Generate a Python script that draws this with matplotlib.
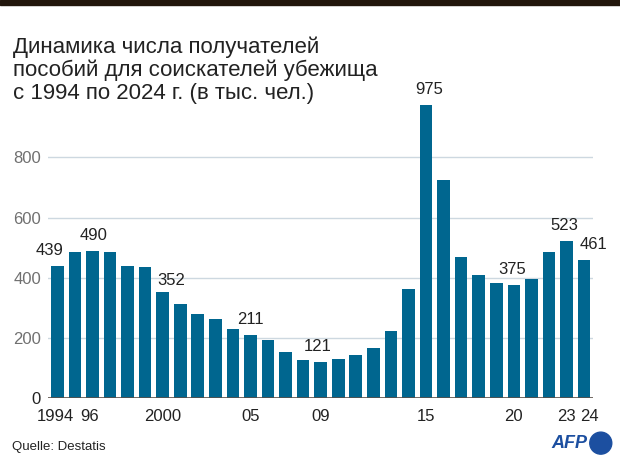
import matplotlib.pyplot as plt
import matplotlib.transforms as mtransforms
from matplotlib.patches import Ellipse, Rectangle

years = list(range(1994, 2025))
values = [439, 487, 490, 485, 438, 435, 352, 313, 279, 263, 230, 211, 193,
          153, 127, 121, 129, 144, 166, 225, 362, 975, 726, 468, 410, 383,
          375, 398, 485, 523, 461]

# labelled bars and a small nudge (pixels)
label_years = [1994, 1996, 2000, 2005, 2009, 2015, 2020, 2023, 2024]
label_dx = [-8, 1, 9, 0, -3, 3, -2, -2, 9]
label_dy = [8, 8, 4, 8, 8, 8, 8, 8, 8]

tick_years = [1994, 1996, 2000, 2005, 2009, 2015, 2020, 2023, 2024]
tick_labels = ["1994", "96", "2000", "05", "09", "15", "20", "23", "24"]
tick_dx = [-2, -3, 0, 0, 0, 0, 0, 0, 5]

yticks = [0, 200, 400, 600, 800]

title_lines = ["Динамика числа получателей",
               "пособий для соискателей убежища",
               "с 1994 по 2024 г. (в тыс. чел.)"]

bar_color = "#00668f"
plt.rcParams["font.family"] = ["Liberation Sans", "DejaVu Sans"]

fig = plt.figure(figsize=(6.2, 4.65), dpi=100)
ax = fig.add_axes([0.0774, 0.1434, 0.8791, 0.6474])

ax.bar(years, values, width=0.72, color=bar_color, zorder=3)
ax.set_xlim(1993.47, 2024.51)
ax.set_ylim(0, 1000)

for y in yticks[1:]:
    ax.axhline(y, color="#cdd8e0", lw=1, zorder=1)
ax.axhline(0, color="#5a4f48", lw=1.2, zorder=4)

for s in ax.spines.values():
    s.set_visible(False)

ax.set_yticks(yticks)
ax.set_yticklabels([str(v) for v in yticks])
ax.tick_params(axis="y", length=0, pad=5, labelsize=12, labelcolor="#707070")
ax.get_yticklabels()[0].set_color("#222222")

ax.set_xticks(tick_years)
ax.set_xticklabels(tick_labels)
ax.tick_params(axis="x", length=0, pad=8, labelsize=12, labelcolor="#222222")
for lab, dx in zip(ax.get_xticklabels(), tick_dx):
    lab.set_transform(lab.get_transform() +
                      mtransforms.ScaledTranslation(dx / 100, 0, fig.dpi_scale_trans))

for yr, dx, dy in zip(label_years, label_dx, label_dy):
    v = values[years.index(yr)]
    ax.annotate(str(v), (yr, v), xytext=(dx * 0.72, dy * 0.72),
                textcoords="offset points", ha="center", va="bottom",
                fontsize=12, color="#222222", zorder=5)

for i, line in enumerate(title_lines):
    fig.text(13 / 620, 1 - (53 + 23 * i) / 465, line, fontsize=16,
             color="#222222", va="baseline", ha="left")

fig.patches.append(Rectangle((0, 0.99), 1, 0.01, transform=fig.transFigure,
                             color="#22160c", zorder=10))

fig.text(0.019, 1 - 447 / 465, "Quelle: Destatis", fontsize=9.5,
         color="#222222", va="center", ha="left")

fig.text(0.947, 0.047, "AFP", fontsize=13, fontweight="bold", style="italic",
         color="#1c4fa0", ha="right", va="center")
fig.patches.append(Ellipse((0.969, 0.047), 22 / 620, 22 / 465,
                           transform=fig.transFigure, color="#1c4fa0"))

fig.savefig("out.png", dpi=100)
